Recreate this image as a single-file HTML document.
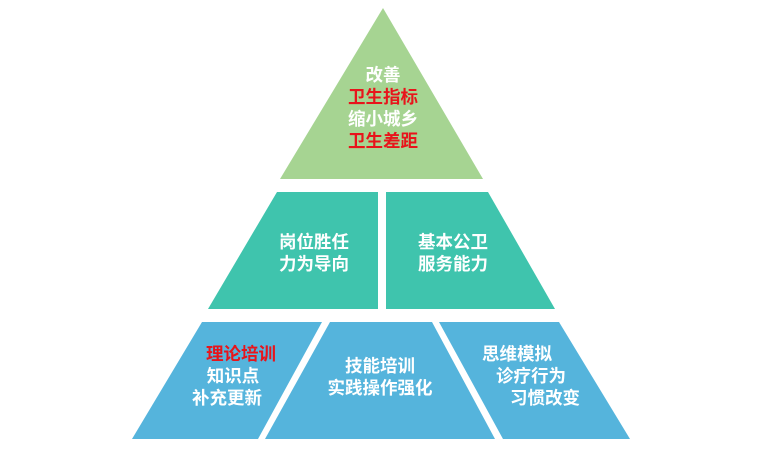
<!DOCTYPE html>
<html><head><meta charset="utf-8"><style>
html,body{margin:0;padding:0;background:#fff;}
svg text{font-family:"Liberation Sans","Noto Sans CJK SC",sans-serif;font-weight:bold;font-size:17.5px;fill:#fff;text-anchor:middle;dominant-baseline:central;}
svg text.r{fill:#e8141b;}
</style></head><body>
<svg width="760" height="458" viewBox="0 0 760 458" xmlns="http://www.w3.org/2000/svg">
<polygon points="383,8 483,179 280,179" fill="#a6d492"/>
<polygon points="277,192 378,192 378,309 208,309" fill="#3fc4ad"/>
<polygon points="386,192 488,192 555,309 386,309" fill="#3fc4ad"/>
<polygon points="202,322 322,322 258,439 132,439" fill="#55b4dc"/>
<polygon points="330,322 432,322 495,439 265,439" fill="#55b4dc"/>
<polygon points="439,322 559,322 630,439 503,439" fill="#55b4dc"/>
<text x="383" y="75">改善</text>
<text class="r" x="383" y="97">卫生指标</text>
<text x="383" y="119">缩小城乡</text>
<text class="r" x="383" y="141">卫生差距</text>
<text x="314" y="242">岗位胜任</text>
<text x="314" y="264">力为导向</text>
<text x="453" y="242">基本公卫</text>
<text x="453" y="264">服务能力</text>
<text class="r" x="241" y="354">理论培训</text>
<text x="233" y="376">知识点</text>
<text x="227" y="398">补充更新</text>
<text x="380" y="366">技能培训</text>
<text x="380" y="388">实践操作强化</text>
<text x="517" y="354">思维模拟</text>
<text x="531" y="376">诊疗行为</text>
<text x="545" y="398">习惯改变</text>
</svg>
</body></html>
